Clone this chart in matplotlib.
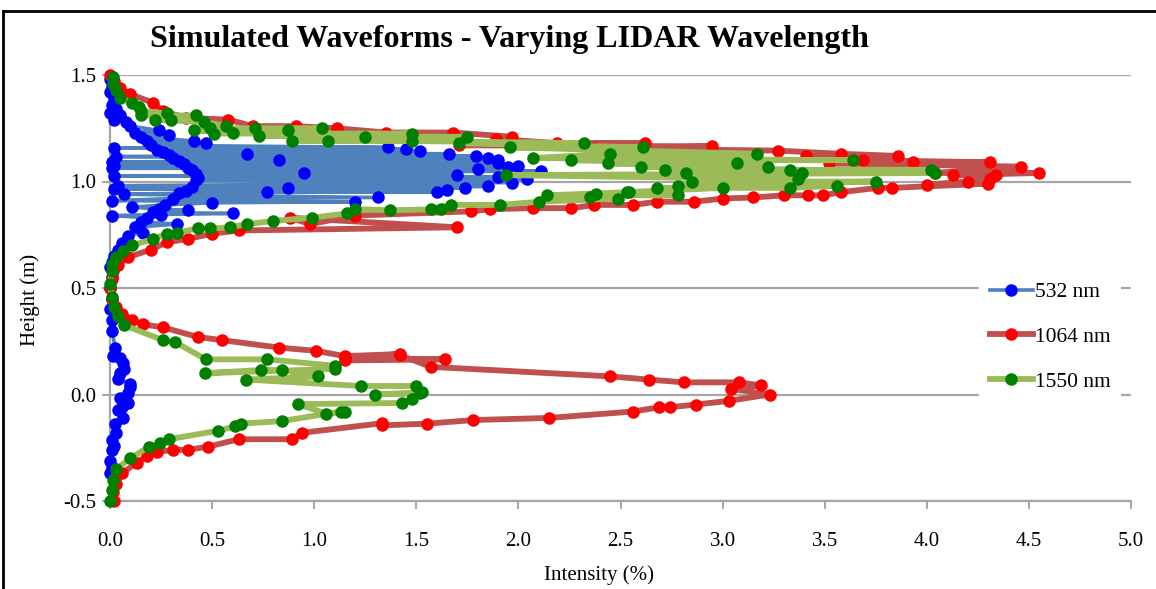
import matplotlib
matplotlib.use("Agg")
import matplotlib.pyplot as plt
from matplotlib.lines import Line2D

# ---------------- data (intensity %, height m), in series order ----------------
b532_x = [0.00,0.01,0.00,0.02,0.01,0.03,0.00,0.05,0.02,0.08,0.10,0.24,0.12,0.29,0.15,0.41,0.18,0.47,0.20,1.36,
          0.02,1.45,0.23,1.52,0.26,1.66,0.67,0.29,1.79,0.03,1.85,0.31,1.90,0.83,0.34,0.01,1.90,0.36,2.00,0.02,
          1.95,0.38,0.01,1.80,0.40,2.11,0.95,0.42,1.70,0.02,1.90,0.43,2.04,0.42,1.97,0.04,1.85,0.40,0.87,1.74,
          0.02,1.65,0.37,1.60,0.77,0.34,0.07,1.31,0.31,0.01,1.20,0.50,0.27,0.11,0.24,0.38,0.21,0.60,0.25,0.01,
          0.18,0.15,0.33,0.12,0.16,0.09,0.06,0.04,0.02,0.01,0.00,0.01,0.00,0.01,0.00,0.01,0.01,0.025,0.015,0.05,
          0.065,0.07,0.05,0.04,0.10,0.10,0.09,0.05,0.09,0.06,0.04,0.065,0.025,0.03,0.01,0.02,0.01,0.00,0.01,0.00]
b532_y = [1.48,1.45,1.42,1.39,1.36,1.34,1.32,1.31,1.29,1.28,1.26,1.24,1.23,1.22,1.21,1.19,1.19,1.18,1.17,1.16,
          1.158,1.152,1.15,1.145,1.14,1.13,1.13,1.125,1.12,1.117,1.112,1.11,1.10,1.10,1.095,1.09,1.085,1.08,1.075,1.072,
          1.068,1.065,1.062,1.06,1.055,1.05,1.04,1.035,1.03,1.026,1.022,1.018,1.01,1.005,0.995,0.98,0.977,0.975,0.97,0.97,
          0.965,0.96,0.955,0.95,0.95,0.945,0.94,0.925,0.92,0.91,0.905,0.90,0.89,0.88,0.87,0.865,0.855,0.85,0.845,0.84,
          0.83,0.81,0.80,0.785,0.76,0.745,0.71,0.68,0.65,0.62,0.60,0.55,0.50,0.45,0.40,0.35,0.30,0.22,0.18,0.17,
          0.15,0.12,0.10,0.075,0.05,0.035,0.005,-0.015,-0.04,-0.06,-0.075,-0.11,-0.14,-0.18,-0.215,-0.24,-0.26,-0.31,-0.34,-0.37]

r1064_x = [0.00,0.02,0.05,0.10,0.21,0.26,0.37,0.58,0.70,0.91,1.11,1.35,1.68,1.97,1.89,2.19,2.62,1.71,2.95,2.37,
           3.27,3.58,3.86,3.41,3.69,4.31,3.93,3.52,4.46,4.04,4.55,4.13,4.34,4.31,4.20,4.00,4.30,3.83,3.76,3.58,
           3.49,3.42,3.30,3.15,3.00,2.86,2.68,2.56,2.37,2.26,2.07,1.86,1.77,1.20,0.98,0.88,1.70,0.63,0.50,0.38,
           0.28,0.20,0.09,0.04,0.015,0.01,0.00,0.01,0.03,0.06,0.11,0.16,0.26,0.43,0.55,0.83,1.01,1.15,1.42,1.15,
           1.64,1.15,1.42,1.57,2.45,2.64,2.81,3.08,3.19,3.04,3.23,3.03,2.87,2.74,2.69,2.56,2.15,1.78,1.55,1.33,
           1.33,0.94,0.89,0.63,0.48,0.38,0.31,0.23,0.18,0.13,0.06,0.03,0.015,0.02]
r1064_y = [1.50,1.47,1.44,1.41,1.37,1.33,1.30,1.29,1.26,1.26,1.25,1.23,1.23,1.21,1.20,1.18,1.18,1.17,1.165,1.155,
           1.145,1.13,1.12,1.12,1.10,1.09,1.09,1.085,1.07,1.04,1.04,1.03,1.03,1.01,1.00,0.985,0.99,0.97,0.97,0.95,
           0.935,0.935,0.935,0.925,0.92,0.905,0.905,0.89,0.89,0.875,0.875,0.87,0.86,0.84,0.80,0.83,0.785,0.77,0.755,0.73,
           0.715,0.68,0.645,0.61,0.58,0.54,0.50,0.45,0.41,0.38,0.35,0.33,0.315,0.27,0.255,0.22,0.205,0.18,0.19,0.17,
           0.165,0.16,0.185,0.13,0.085,0.07,0.057,0.057,0.043,0.027,0.00,-0.03,-0.047,-0.06,-0.06,-0.08,-0.11,-0.12,-0.137,-0.145,
           -0.135,-0.18,-0.21,-0.21,-0.245,-0.26,-0.26,-0.27,-0.29,-0.32,-0.37,-0.42,-0.46,-0.50]

g1550_x = [0.015,0.015,0.03,0.05,0.11,0.14,0.15,0.28,0.15,0.42,0.30,0.22,0.46,0.57,0.49,0.71,1.04,0.87,0.41,0.60,
           0.51,1.48,0.73,1.25,1.75,1.07,0.89,1.48,2.32,1.71,2.61,1.96,3.17,2.45,2.07,3.64,2.26,3.07,2.44,3.22,
           2.60,3.33,2.72,4.02,3.39,2.82,4.04,1.94,3.37,2.85,3.75,2.78,3.56,3.33,2.68,3.00,2.53,2.54,2.14,2.78,
           2.38,2.35,2.49,2.10,1.91,1.67,1.57,1.62,1.37,1.20,1.16,0.99,0.80,0.67,0.59,0.49,0.43,0.33,0.28,0.21,
           0.11,0.065,0.03,0.01,0.01,0.00,0.01,0.02,0.04,0.07,0.26,0.32,0.47,0.77,1.10,1.10,0.465,0.74,0.84,1.02,
           0.665,1.23,1.50,1.53,1.30,1.52,1.48,1.43,0.92,1.06,1.15,1.13,0.84,0.64,0.61,0.53,0.29,0.245,0.19,0.10,
           0.03,0.015,0.01,0.00]
g1550_y = [1.49,1.46,1.43,1.39,1.37,1.35,1.33,1.32,1.31,1.31,1.29,1.29,1.28,1.26,1.25,1.25,1.25,1.24,1.24,1.23,
           1.225,1.225,1.215,1.21,1.21,1.19,1.19,1.19,1.18,1.18,1.16,1.16,1.13,1.13,1.11,1.10,1.10,1.085,1.085,1.07,
           1.07,1.055,1.055,1.055,1.04,1.04,1.04,1.03,1.01,1.00,1.00,0.98,0.98,0.97,0.97,0.97,0.95,0.95,0.935,0.935,
           0.94,0.925,0.92,0.905,0.89,0.89,0.87,0.87,0.865,0.87,0.85,0.83,0.815,0.80,0.785,0.78,0.78,0.76,0.755,0.73,
           0.70,0.675,0.645,0.615,0.58,0.52,0.46,0.41,0.37,0.325,0.255,0.245,0.165,0.165,0.135,0.12,0.10,0.115,0.115,0.085,
           0.07,0.04,0.04,0.01,0.00,0.005,-0.02,-0.04,-0.045,-0.09,-0.08,-0.08,-0.125,-0.137,-0.15,-0.17,-0.21,-0.23,-0.245,-0.30,
           -0.35,-0.40,-0.45,-0.50]

series_names = ["532 nm", "1064 nm", "1550 nm"]
x_ticks = [0.0, 0.5, 1.0, 1.5, 2.0, 2.5, 3.0, 3.5, 4.0, 4.5, 5.0]
y_ticks = [-0.5, 0.0, 0.5, 1.0, 1.5]

# ---------------- figure ----------------
plt.rcParams['font.family'] = ['Liberation Serif', 'DejaVu Serif']
W, H = 1156, 589
fig = plt.figure(figsize=(W / 100, H / 100), dpi=100)
ax = fig.add_axes([110 / W, 1 - 501 / H, (1131 - 110) / W, (501 - 75) / H])

grid_c = '#a6a6a6'
ax.set_xlim(0, 5)
ax.set_ylim(-0.5, 1.5)
ax.set_xticks(x_ticks)
ax.set_yticks(y_ticks)
ax.set_xticklabels([f"{v:.1f}" for v in x_ticks])
ax.set_yticklabels([f"{v:.1f}" for v in y_ticks])
ax.yaxis.grid(True, color=grid_c, lw=1.6, zorder=0)
ax.set_axisbelow(True)
for s in ['top', 'right']:
    ax.spines[s].set_visible(False)
for s in ['left', 'bottom']:
    ax.spines[s].set_color(grid_c)
    ax.spines[s].set_linewidth(1.6)
ax.tick_params(axis='both', colors=grid_c, labelcolor='black', labelsize=15,
               length=6, width=1.4, direction='out')
ax.tick_params(axis='x', pad=16)
ax.tick_params(axis='y', pad=4)

styles = [
    (b532_x, b532_y, '#4f81bd', '#0000ff', 2.6),
    (r1064_x, r1064_y, '#c0504d', '#ff0000', 4.2),
    (g1550_x, g1550_y, '#9bbb59', '#008000', 4.2),
]
handles = []
for (xs, ys, lc, mc, lw), name in zip(styles, series_names):
    ln, = ax.plot(xs, ys, color=lc, lw=lw, marker='o', markersize=8,
                  markerfacecolor=mc, markeredgecolor=mc, label=name,
                  solid_joinstyle='round', clip_on=False, zorder=3)
    handles.append(ln)

leg = ax.legend(handles=handles, loc='center left', bbox_to_anchor=(968 / W, 1 - 337 / H),
                bbox_transform=fig.transFigure, frameon=True, facecolor='white',
                edgecolor='none', framealpha=1, fontsize=15.5, handlelength=2.0,
                handletextpad=0.1, labelspacing=1.15, borderpad=0.5, markerscale=1.0)
leg.set_zorder(5)

fig.text(150 / W, 1 - 40 / H, "Simulated Waveforms - Varying LIDAR Wavelength",
         fontsize=23, fontweight='bold', ha='left', va='center')
fig.text(599 / W, 1 - 575 / H, "Intensity (%)", fontsize=15, ha='center', va='center')
fig.text(30 / W, 1 - 300 / H, "Height (m)", fontsize=15, ha='center', va='center', rotation=90)

# outer frame lines (left and top)
fig.add_artist(Line2D([3 / W, 3 / W], [0, 1 - 11 / H], transform=fig.transFigure, color='black', lw=2))
fig.add_artist(Line2D([3 / W, 1], [1 - 11 / H, 1 - 11 / H], transform=fig.transFigure, color='black', lw=2))

fig.savefig("out.png", dpi=100)
